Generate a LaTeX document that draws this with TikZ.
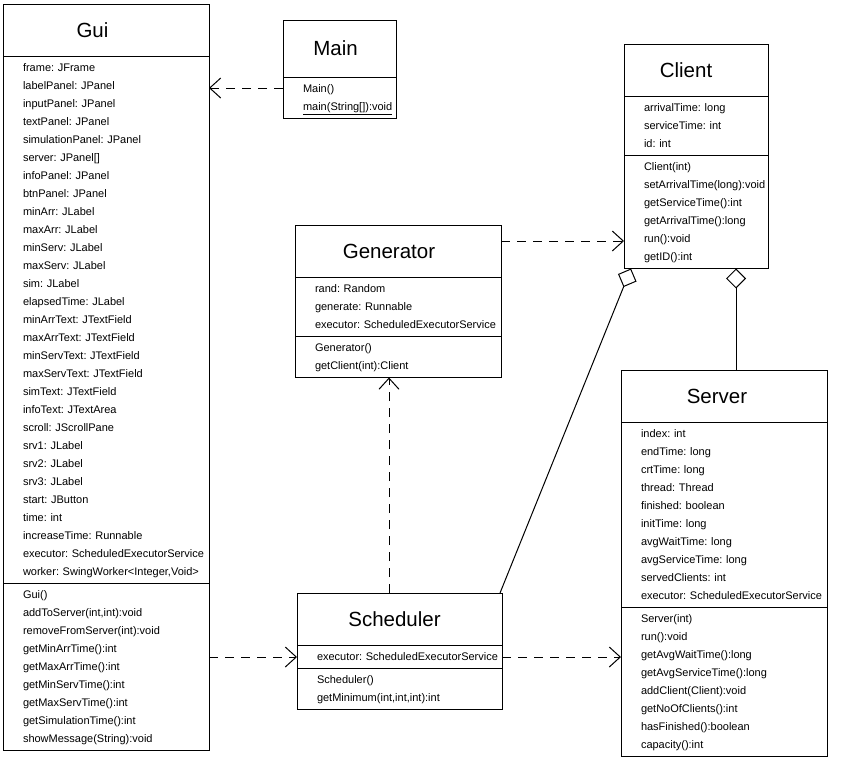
\documentclass[tikz,border=0pt]{standalone}
\usepackage{fontspec}
\setmainfont{Liberation Sans}
\usetikzlibrary{positioning, arrows.meta}
\frenchspacing

\tikzset{
    classname/.style={draw, outer sep=0pt, inner sep=0pt, minimum height=52.5pt,
        font=\fontsize{20.5}{24}\selectfont},
    classpart/.style={draw, outer sep=0pt, inner xsep=0pt, inner ysep=2.5pt, align=left,
        font=\fontsize{11}{18}\selectfont\frenchspacing,
        execute at begin node={\leftskip=20pt\strut}, execute at end node={\strut}},
    depends/.style={dash pattern=on 9pt off 7pt, -{Straight Barb[length=11pt, width=20pt]}},
    aggregates/.style={-{Diamond[open, length=20pt, width=20pt]}},
}

\begin{document}
\begin{tikzpicture}[x=1pt, y=-1pt, line width=1pt]
    \useasboundingbox (0,0) rectangle (853,780);

    % Gui
    \node[classname, minimum width=206pt, minimum height=52pt, anchor=north west] (gui) at (3,4) {Gui\hspace*{27pt}};
    \node[classpart, text width=206pt, below=0pt of gui] (gui-attr) {
        frame: JFrame\\
        labelPanel: JPanel\\
        inputPanel: JPanel\\
        textPanel: JPanel\\
        simulationPanel: JPanel\\
        server: JPanel[]\\
        infoPanel: JPanel\\
        btnPanel: JPanel\\
        minArr: JLabel\\
        maxArr: JLabel\\
        minServ: JLabel\\
        maxServ: JLabel\\
        sim: JLabel\\
        elapsedTime: JLabel\\
        minArrText: JTextField\\
        maxArrText: JTextField\\
        minServText: JTextField\\
        maxServText: JTextField\\
        simText: JTextField\\
        infoText: JTextArea\\
        scroll: JScrollPane\\
        srv1: JLabel\\
        srv2: JLabel\\
        srv3: JLabel\\
        start: JButton\\
        time: int\\
        increaseTime: Runnable\\
        executor: ScheduledExecutorService\\
        worker: SwingWorker<Integer,Void>};
    \node[classpart, text width=206pt, below=0pt of gui-attr] (gui-ops) {
        Gui()\\
        addToServer(int,int):void\\
        removeFromServer(int):void\\
        getMinArrTime():int\\
        getMaxArrTime():int\\
        getMinServTime():int\\
        getMaxServTime():int\\
        getSimulationTime():int\\
        showMessage(String):void};

    % Main
    \node[classname, minimum width=113pt, minimum height=57pt, anchor=north west] (main) at (283,20) {Main\hspace*{8pt}};
    \node[classpart, text width=113pt, below=0pt of main] (main-ops) {
        Main()\\
        \underline{main(String[]):void}};

    % Client
    \node[classname, minimum width=144pt, anchor=north west] (client) at (624,44) {Client\hspace*{20pt}};
    \node[classpart, text width=144pt, below=0pt of client] (client-attr) {
        arrivalTime: long\\
        serviceTime: int\\
        id: int};
    \node[classpart, text width=144pt, below=0pt of client-attr] (client-ops) {
        Client(int)\\
        setArrivalTime(long):void\\
        getServiceTime():int\\
        getArrivalTime():long\\
        run():void\\
        getID():int};

    % Generator
    \node[classname, minimum width=206pt, anchor=north west] (gen) at (295,225) {Generator\hspace*{18pt}};
    \node[classpart, text width=206pt, below=0pt of gen] (gen-attr) {
        rand: Random\\
        generate: Runnable\\
        executor: ScheduledExecutorService};
    \node[classpart, text width=206pt, below=0pt of gen-attr] (gen-ops) {
        Generator()\\
        getClient(int):Client};

    % Scheduler
    \node[classname, minimum width=205pt, anchor=north west] (sched) at (297,593) {Scheduler\hspace*{10pt}};
    \node[classpart, text width=205pt, below=0pt of sched] (sched-attr) {
        executor: ScheduledExecutorService};
    \node[classpart, text width=205pt, below=0pt of sched-attr] (sched-ops) {
        Scheduler()\\
        getMinimum(int,int,int):int};

    % Server
    \node[classname, minimum width=206pt, anchor=north west] (server) at (621,370) {Server\hspace*{14pt}};
    \node[classpart, text width=206pt, below=0pt of server] (server-attr) {
        index: int\\
        endTime: long\\
        crtTime: long\\
        thread: Thread\\
        finished: boolean\\
        initTime: long\\
        avgWaitTime: long\\
        avgServiceTime: long\\
        servedClients: int\\
        executor: ScheduledExecutorService};
    \node[classpart, text width=206pt, below=0pt of server-attr] (server-ops) {
        Server(int)\\
        run():void\\
        getAvgWaitTime():long\\
        getAvgServiceTime():long\\
        addClient(Client):void\\
        getNoOfClients():int\\
        hasFinished():boolean\\
        capacity():int};

    % dependencies
    \draw[depends] (main-ops.west |- 0,88) -- (gui-attr.east |- 0,88);
    \draw[depends] (gen.east |- 0,241) -- (client-ops.west |- 0,241);
    \draw[depends] (sched.north -| 389,0) -- (gen-ops.south -| 389,0);
    \draw[depends] (gui-ops.east |- sched-attr.west) -- (sched-attr.west);
    \draw[depends] (sched-attr.east) -- (server-ops.west |- sched-attr.east);

    % aggregations
    \draw[aggregates] ([xshift=-2pt]sched.north east) -- (client-ops.south -| 631,0);
    \draw[aggregates] (server.north -| 736,0) -- (client-ops.south -| 736,0);
\end{tikzpicture}
\end{document}
